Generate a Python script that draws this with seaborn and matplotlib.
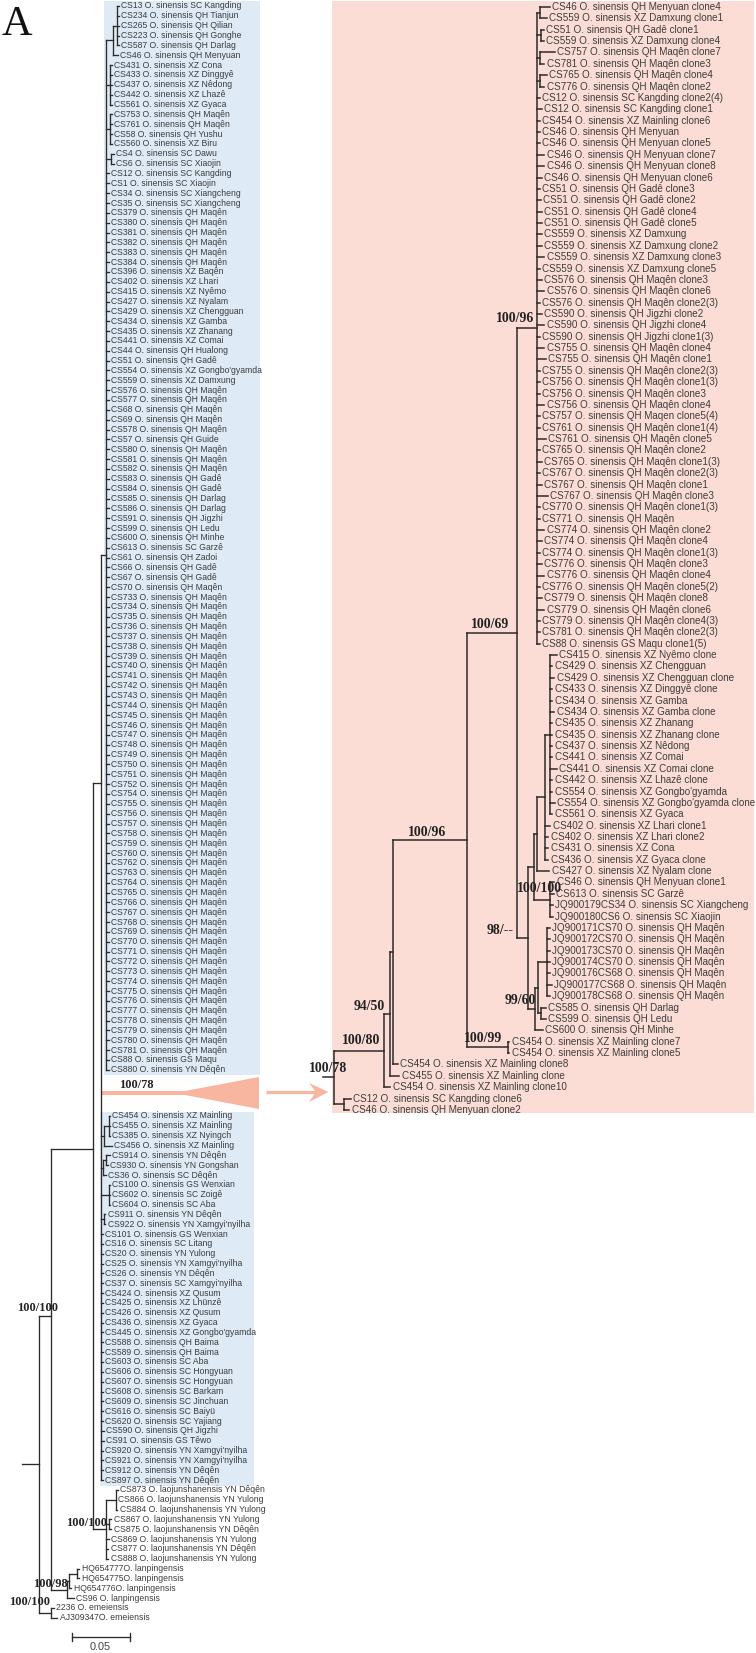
import matplotlib
matplotlib.use("Agg")  # no display in the sandbox
import matplotlib.pyplot as plt
from matplotlib.patches import Rectangle
import pandas as pd
import seaborn as sns

# taxa in tree order, top to bottom
left_taxa = [
    "CS13 O. sinensis SC Kangding", "CS234 O. sinensis QH Tianjun", "CS265 O. sinensis QH Qilian",
    "CS223 O. sinensis QH Gonghe", "CS587 O. sinensis QH Darlag", "CS46 O. sinensis QH Menyuan",
    "CS431 O. sinensis XZ Cona", "CS433 O. sinensis XZ Dinggyê", "CS437 O. sinensis XZ Nêdong",
    "CS442 O. sinensis XZ Lhazê", "CS561 O. sinensis XZ Gyaca", "CS753 O. sinensis QH Maqên",
    "CS761 O. sinensis QH Maqên", "CS58 O. sinensis QH Yushu", "CS560 O. sinensis XZ Biru",
    "CS4 O. sinensis SC Dawu", "CS6 O. sinensis SC Xiaojin", "CS12 O. sinensis SC Kangding",
    "CS1 O. sinensis SC Xiaojin", "CS34 O. sinensis SC Xiangcheng", "CS35 O. sinensis SC Xiangcheng",
    "CS379 O. sinensis QH Maqên", "CS380 O. sinensis QH Maqên", "CS381 O. sinensis QH Maqên",
    "CS382 O. sinensis QH Maqên", "CS383 O. sinensis QH Maqên", "CS384 O. sinensis QH Maqên",
    "CS396 O. sinensis XZ Baqên", "CS402 O. sinensis XZ Lhari", "CS415 O. sinensis XZ Nyêmo",
    "CS427 O. sinensis XZ Nyalam", "CS429 O. sinensis XZ Chengguan", "CS434 O. sinensis XZ Gamba",
    "CS435 O. sinensis XZ Zhanang", "CS441 O. sinensis XZ Comai", "CS44 O. sinensis QH Hualong",
    "CS51 O. sinensis QH Gadê", "CS554 O. sinensis XZ Gongbo'gyamda", "CS559 O. sinensis XZ Damxung",
    "CS576 O. sinensis QH Maqên", "CS577 O. sinensis QH Maqên", "CS68 O. sinensis QH Maqên",
    "CS69 O. sinensis QH Maqên", "CS578 O. sinensis QH Maqên", "CS57 O. sinensis QH Guide",
    "CS580 O. sinensis QH Maqên", "CS581 O. sinensis QH Maqên", "CS582 O. sinensis QH Maqên",
    "CS583 O. sinensis QH Gadê", "CS584 O. sinensis QH Gadê", "CS585 O. sinensis QH Darlag",
    "CS586 O. sinensis QH Darlag", "CS591 O. sinensis QH Jigzhi", "CS599 O. sinensis QH Ledu",
    "CS600 O. sinensis QH Minhe", "CS613 O. sinensis SC Garzê", "CS61 O. sinensis QH Zadoi",
    "CS66 O. sinensis QH Gadê", "CS67 O. sinensis QH Gadê", "CS70 O. sinensis QH Maqên",
    "CS733 O. sinensis QH Maqên", "CS734 O. sinensis QH Maqên", "CS735 O. sinensis QH Maqên",
    "CS736 O. sinensis QH Maqên", "CS737 O. sinensis QH Maqên", "CS738 O. sinensis QH Maqên",
    "CS739 O. sinensis QH Maqên", "CS740 O. sinensis QH Maqên", "CS741 O. sinensis QH Maqên",
    "CS742 O. sinensis QH Maqên", "CS743 O. sinensis QH Maqên", "CS744 O. sinensis QH Maqên",
    "CS745 O. sinensis QH Maqên", "CS746 O. sinensis QH Maqên", "CS747 O. sinensis QH Maqên",
    "CS748 O. sinensis QH Maqên", "CS749 O. sinensis QH Maqên", "CS750 O. sinensis QH Maqên",
    "CS751 O. sinensis QH Maqên", "CS752 O. sinensis QH Maqên", "CS754 O. sinensis QH Maqên",
    "CS755 O. sinensis QH Maqên", "CS756 O. sinensis QH Maqên", "CS757 O. sinensis QH Maqên",
    "CS758 O. sinensis QH Maqên", "CS759 O. sinensis QH Maqên", "CS760 O. sinensis QH Maqên",
    "CS762 O. sinensis QH Maqên", "CS763 O. sinensis QH Maqên", "CS764 O. sinensis QH Maqên",
    "CS765 O. sinensis QH Maqên", "CS766 O. sinensis QH Maqên", "CS767 O. sinensis QH Maqên",
    "CS768 O. sinensis QH Maqên", "CS769 O. sinensis QH Maqên", "CS770 O. sinensis QH Maqên",
    "CS771 O. sinensis QH Maqên", "CS772 O. sinensis QH Maqên", "CS773 O. sinensis QH Maqên",
    "CS774 O. sinensis QH Maqên", "CS775 O. sinensis QH Maqên", "CS776 O. sinensis QH Maqên",
    "CS777 O. sinensis QH Maqên", "CS778 O. sinensis QH Maqên", "CS779 O. sinensis QH Maqên",
    "CS780 O. sinensis QH Maqên", "CS781 O. sinensis QH Maqên", "CS88 O. sinensis GS Maqu",
    "CS880 O. sinensis YN Dêqên",
    # below the collapsed clade
    "CS454 O. sinensis XZ Mainling", "CS455 O. sinensis XZ Mainling", "CS385 O. sinensis XZ Nyingch",
    "CS456 O. sinensis XZ Mainling", "CS914 O. sinensis YN Dêqên", "CS930 O. sinensis YN Gongshan",
    "CS36 O. sinensis SC Dêqên", "CS100 O. sinensis GS Wenxian", "CS602 O. sinensis SC Zoigê",
    "CS604 O. sinensis SC Aba", "CS911 O. sinensis YN Dêqên", "CS922 O. sinensis YN Xamgyi'nyilha",
    "CS101 O. sinensis GS Wenxian", "CS16 O. sinensis SC Litang", "CS20 O. sinensis YN Yulong",
    "CS25 O. sinensis YN Xamgyi'nyilha", "CS26 O. sinensis YN Dêqên", "CS37 O. sinensis SC Xamgyi'nyilha",
    "CS424 O. sinensis XZ Qusum", "CS425 O. sinensis XZ Lhünzê", "CS426 O. sinensis XZ Qusum",
    "CS436 O. sinensis XZ Gyaca", "CS445 O. sinensis XZ Gongbo'gyamda", "CS588 O. sinensis QH Baima",
    "CS589 O. sinensis QH Baima", "CS603 O. sinensis SC Aba", "CS606 O. sinensis SC Hongyuan",
    "CS607 O. sinensis SC Hongyuan", "CS608 O. sinensis SC Barkam", "CS609 O. sinensis SC Jinchuan",
    "CS616 O. sinensis SC Baiyü", "CS620 O. sinensis SC Yajiang", "CS590 O. sinensis QH Jigzhi",
    "CS91 O. sinensis GS Têwo", "CS920 O. sinensis YN Xamgyi'nyilha", "CS921 O. sinensis YN Xamgyi'nyilha",
    "CS912 O. sinensis YN Dêqên", "CS897 O. sinensis YN Dêqên",
    "CS873 O. laojunshanensis YN Dêqên", "CS866 O. laojunshanensis YN Yulong",
    "CS884 O. laojunshanensis YN Yulong", "CS867 O. laojunshanensis YN Yulong",
    "CS875 O. laojunshanensis YN Dêqên", "CS869 O. laojunshanensis YN Yulong",
    "CS877 O. laojunshanensis YN Dêqên", "CS888 O. laojunshanensis YN Yulong",
    "HQ654777O. lanpingensis", "HQ654775O. lanpingensis", "HQ654776O. lanpingensis",
    "CS96 O. lanpingensis", "2236 O. emeiensis", "AJ309347O. emeiensis",
]

# where each terminal branch ends
left_tip_depth = [
    118.5, 118.5, 118.5, 118.5, 118.5, 117.5, 111.5, 111.5, 111.5, 111.5, 111.5, 111.5, 111.5, 111.5, 111.5,
    113.5, 113.5, 108.5, 108.5, 108.5, 108.5, 108.5, 108.5, 108.5, 108.5, 108.5, 108.5, 108.5, 108.5, 108.5,
    108.5, 108.5, 108.5, 108.5, 108.5, 108.5, 108.5, 108.5, 108.5, 108.5, 108.5, 108.5, 108.5, 108.5, 108.5,
    108.5, 108.5, 108.5, 108.5, 108.5, 108.5, 108.5, 108.5, 108.5, 108.5, 108.5, 108.5, 108.5, 108.5, 108.5,
    108.5, 108.5, 108.5, 108.5, 108.5, 108.5, 108.5, 108.5, 108.5, 108.5, 108.5, 108.5, 108.5, 108.5, 108.5,
    108.5, 108.5, 108.5, 108.5, 108.5, 108.5, 108.5, 108.5, 108.5, 108.5, 108.5, 108.5, 108.5, 108.5, 108.5,
    108.5, 108.5, 108.5, 108.5, 108.5, 108.5, 108.5, 108.5, 108.5, 108.5, 108.5, 108.5, 108.5, 108.5, 108.5,
    108.5, 108.5, 108.5, 108.5,
    110, 110, 110, 112, 109.5, 108, 105.5, 110, 110, 110, 105, 105.3,
    102.5, 102.5, 102.5, 102.5, 102.5, 102.5, 102.5, 102.5, 102.5, 102.5, 102.5, 102.5, 102.5, 102.5,
    102.5, 102.5, 102.5, 102.5, 102.5, 102.5, 104, 104, 102.5, 102.5, 102.5, 102.5,
    117.5, 116, 117, 111, 111, 108.5, 108.3, 108.3, 79, 79, 71, 73.5, 54, 57,
]

right_taxa = [
    "CS46 O. sinensis QH Menyuan clone4", "CS559 O. sinensis XZ Damxung clone1", "CS51 O. sinensis QH Gadê clone1",
    "CS559 O. sinensis XZ Damxung clone4", "CS757 O. sinensis QH Maqên clone7", "CS781 O. sinensis QH Maqên clone3",
    "CS765 O. sinensis QH Maqên clone4", "CS776 O. sinensis QH Maqên clone2", "CS12 O. sinensis SC Kangding clone2(4)",
    "CS12 O. sinensis SC Kangding clone1", "CS454 O. sinensis XZ Mainling clone6", "CS46 O. sinensis QH Menyuan",
    "CS46 O. sinensis QH Menyuan clone5", "CS46 O. sinensis QH Menyuan clone7", "CS46 O. sinensis QH Menyuan clone8",
    "CS46 O. sinensis QH Menyuan clone6", "CS51 O. sinensis QH Gadê clone3", "CS51 O. sinensis QH Gadê clone2",
    "CS51 O. sinensis QH Gadê clone4", "CS51 O. sinensis QH Gadê clone5", "CS559 O. sinensis XZ Damxung",
    "CS559 O. sinensis XZ Damxung clone2", "CS559 O. sinensis XZ Damxung clone3", "CS559 O. sinensis XZ Damxung clone5",
    "CS576 O. sinensis QH Maqên clone3", "CS576 O. sinensis QH Maqên clone6", "CS576 O. sinensis QH Maqên clone2(3)",
    "CS590 O. sinensis QH Jigzhi clone2", "CS590 O. sinensis QH Jigzhi clone4", "CS590 O. sinensis QH Jigzhi clone1(3)",
    "CS755 O. sinensis QH Maqên clone4", "CS755 O. sinensis QH Maqên clone1", "CS755 O. sinensis QH Maqên clone2(3)",
    "CS756 O. sinensis QH Maqên clone1(3)", "CS756 O. sinensis QH Maqên clone3", "CS756 O. sinensis QH Maqên clone4",
    "CS757 O. sinensis QH Maqen clone5(4)", "CS761 O. sinensis QH Maqên clone1(4)", "CS761 O. sinensis QH Maqên clone5",
    "CS765 O. sinensis QH Maqên clone2", "CS765 O. sinensis QH Maqên clone1(3)", "CS767 O. sinensis QH Maqên clone2(3)",
    "CS767 O. sinensis QH Maqên clone1", "CS767 O. sinensis QH Maqên clone3", "CS770 O. sinensis QH Maqên clone1(3)",
    "CS771 O. sinensis QH Maqên", "CS774 O. sinensis QH Maqên clone2", "CS774 O. sinensis QH Maqên clone4",
    "CS774 O. sinensis QH Maqên clone1(3)", "CS776 O. sinensis QH Maqên clone3", "CS776 O. sinensis QH Maqên clone4",
    "CS776 O. sinensis QH Maqên clone5(2)", "CS779 O. sinensis QH Maqên clone8", "CS779 O. sinensis QH Maqên clone6",
    "CS779 O. sinensis QH Maqên clone4(3)", "CS781 O. sinensis QH Maqên clone2(3)", "CS88 O. sinensis GS Maqu clone1(5)",
    "CS415 O. sinensis XZ Nyêmo clone", "CS429 O. sinensis XZ Chengguan", "CS429 O. sinensis XZ Chengguan clone",
    "CS433 O. sinensis XZ Dinggyê clone", "CS434 O. sinensis XZ Gamba", "CS434 O. sinensis XZ Gamba clone",
    "CS435 O. sinensis XZ Zhanang", "CS435 O. sinensis XZ Zhanang clone", "CS437 O. sinensis XZ Nêdong",
    "CS441 O. sinensis XZ Comai", "CS441 O. sinensis XZ Comai clone", "CS442 O. sinensis XZ Lhazê clone",
    "CS554 O. sinensis XZ Gongbo'gyamda", "CS554 O. sinensis XZ Gongbo'gyamda clone", "CS561 O. sinensis XZ Gyaca",
    "CS402 O. sinensis XZ Lhari clone1", "CS402 O. sinensis XZ Lhari clone2", "CS431 O. sinensis XZ Cona",
    "CS436 O. sinensis XZ Gyaca clone", "CS427 O. sinensis XZ Nyalam clone", "CS46 O. sinensis QH Menyuan clone1",
    "CS613 O. sinensis SC Garzê", "JQ900179CS34 O. sinensis SC Xiangcheng", "JQ900180CS6 O. sinensis SC Xiaojin",
    "JQ900171CS70 O. sinensis QH Maqên", "JQ900172CS70 O. sinensis QH Maqên", "JQ900173CS70 O. sinensis QH Maqên",
    "JQ900174CS70 O. sinensis QH Maqên", "JQ900176CS68 O. sinensis QH Maqên", "JQ900177CS68 O. sinensis QH Maqên",
    "JQ900178CS68 O. sinensis QH Maqên", "CS585 O. sinensis QH Darlag", "CS599 O. sinensis QH Ledu",
    "CS600 O. sinensis QH Minhe", "CS454 O. sinensis XZ Mainling clone7", "CS454 O. sinensis XZ Mainling clone5",
    "CS454 O. sinensis XZ Mainling clone8", "CS455 O. sinensis XZ Mainling clone", "CS454 O. sinensis XZ Mainling clone10",
    "CS12 O. sinensis SC Kangding clone6", "CS46 O. sinensis QH Menyuan clone2",
]

right_tip_depth = [
    549.5, 546.5, 543.5, 543.5, 554.8, 544.2, 546.5, 544.2, 539.8, 541.8, 539.8, 539.8, 539.8, 544.2, 544.2,
    541.8, 539.8, 540.8, 541.8, 541.8, 541.8, 541.8, 544.2, 539.8, 541.8, 544.2, 539.8, 541.8, 544.2, 539.8,
    544.2, 545.8, 539.8, 539.8, 539.8, 544.2, 539.8, 539.8, 545.8, 539.8, 541.8, 539.8, 541.8, 547.8, 539.8,
    539.8, 544.2, 541.8, 539.8, 541.8, 544.2, 539.8, 541.8, 544.2, 539.8, 539.8, 539.8,
    556.5, 552.2, 554.2, 552.2, 552.2, 554.2, 552.2, 552.2, 552.2, 552.2, 556.5, 552.2, 552.2, 554.8, 552.2,
    550.2, 548.2, 548.2, 548.2, 549.2, 554.2, 553.5, 552.5, 552.5,
    549.5, 549.5, 549.5, 549.5, 549.5, 551.5, 549.5, 545.5, 545.5, 542.5, 509.2, 509.2,
    397.5, 399.2, 390.2, 350.5, 349.2,
]

# bootstrap support labels
left_support = ["100/100", "100/100", "100/98", "100/100", "100/78"]
left_support_x = [38, 87, 50, 30, 136.5]
left_support_y = [1308, 1523, 1584, 1602, 1085]
right_support = ["100/96", "100/69", "100/96", "100/100", "98/--", "99/60", "94/50", "100/80", "100/78", "100/99"]
right_support_x = [515, 490.5, 427, 539.5, 500.5, 520, 369, 361, 328.5, 483]
right_support_y = [318, 624, 832, 889, 931, 1001, 1006, 1041, 1068, 1038]

FIG_W, FIG_H = 756, 1653
BRANCH = "#2e2a2a"
LABEL = "#3d3d3d"
BLUE = "#deeaf5"
PINK = "#fbddd6"
SALMON = "#f8b5a0"


def N(depth, *children, stem=None):
    return (depth, children, stem)


# left tree, tips numbered down the page; lo is the first row under the collapsed clade
lo = 109
left_tree = N(
    38.7,
    N(
        50.5,
        N(
            93,
            N(
                100.5,
                N(106, N(113, N(116.7, 0, 1, 2, 3, 4), 5), N(109.5, *range(6, 11)), N(109.5, *range(11, 15)),
                  N(110.5, 15, 16), *range(17, lo)),
                N(104, N(109, lo, lo + 1, lo + 2), lo + 3),
                N(103, N(106, lo + 4, lo + 5), lo + 6),
                N(109, lo + 7, lo + 8, lo + 9),
                N(103.5, lo + 10, lo + 11),
                *range(lo + 12, lo + 38),
                stem=783,
            ),
            N(106, N(115.5, lo + 38, lo + 39, lo + 40), N(109, lo + 41, lo + 42), lo + 43, lo + 44, lo + 45),
            stem=1149,
        ),
        N(66.5, N(68.5, N(76.5, lo + 46, lo + 47), lo + 48), lo + 49),
        stem=1316,
    ),
    N(51, lo + 50, lo + 51),
)

right_tree = N(
    333.7,
    N(
        384.3,
        N(
            390,
            N(
                392.7,
                N(
                    467,
                    N(
                        517.3,
                        N(537, N(540, 0, 1), N(540.7, 2, 3), N(540, 4, 5), N(540.3, 6, 7), *range(8, 57)),
                        N(
                            528.3,
                            N(
                                533.7,
                                N(537, N(545, N(549.5, *range(57, 72)), 72, 73, 74, 75), 76),
                                N(550, 77, 78, 79, 80),
                            ),
                            N(535, N(538.3, N(547.3, *range(81, 88)), N(541, 88, 89)), 90),
                        ),
                    ),
                    N(507.7, 91, 92),
                ),
                93,
            ),
            94,
        ),
        95,
    ),
    N(344, 96, 97),
)


def left_row_y(i):
    return 6 + 9.85 * i if i < lo else 1116 + 9.84 * (i - lo)


def right_row_y(i):
    return 7 + 11.37 * i


segments = []


def add_segment(panel, x0, y0, x1, y1):
    n = len(segments) // 2
    segments.append({"panel": panel, "branch": n, "x": x0, "y": y0})
    segments.append({"panel": panel, "branch": n, "x": x1, "y": y1})


def walk(node, panel, tip_depth, row_y):
    if isinstance(node, int):
        return tip_depth[node], row_y(node)
    depth, children, stem = node
    ends = [walk(c, panel, tip_depth, row_y) for c in children]
    ys = [y for _, y in ends]
    for child_x, child_y in ends:
        add_segment(panel, depth, child_y, child_x, child_y)
    add_segment(panel, depth, min(ys), depth, max(ys))
    return depth, stem if stem is not None else (min(ys) + max(ys)) / 2


_, left_root_y = walk(left_tree, "left", left_tip_depth, left_row_y)
add_segment("left", 22, left_root_y, left_tree[0], left_root_y)
_, right_root_y = walk(right_tree, "right", right_tip_depth, right_row_y)
add_segment("right", 323, right_root_y, right_tree[0], right_root_y)

# scale bar
add_segment("left", 71.5, 1637, 130, 1637)
add_segment("left", 71.5, 1633, 71.5, 1641)
add_segment("left", 130, 1633, 130, 1641)

branches = pd.DataFrame(segments)

sns.set_theme(style="white")
plt.rcParams["font.family"] = ["Liberation Sans", "DejaVu Sans"]

fig = plt.figure(figsize=(FIG_W / 100, FIG_H / 100), dpi=100)
ax = fig.add_axes([0, 0, 1, 1])

# shaded panels
ax.add_patch(Rectangle((104, 1), 156, 1074, color=BLUE, lw=0, zorder=0))
ax.add_patch(Rectangle((100, 1112), 154, 374, color=BLUE, lw=0, zorder=0))
ax.add_patch(Rectangle((332, 1), 422, 1112, color=PINK, lw=0, zorder=0))

# collapsed clade and arrow pointing at its expansion
ax.fill([101, 185, 259, 259, 185, 101], [1091, 1091, 1077, 1109, 1095, 1095], color=SALMON, lw=0, zorder=1)
ax.plot([266, 318], [1092, 1092], color=SALMON, lw=2.3, solid_capstyle="butt", zorder=1)
ax.fill([328.5, 309, 316, 309], [1092, 1083, 1092, 1102], color=SALMON, lw=0, zorder=1)

for panel, width in [("left", 0.95), ("right", 1.1)]:
    sns.lineplot(
        data=branches[branches["panel"] == panel],
        x="x",
        y="y",
        units="branch",
        estimator=None,
        sort=False,
        color=BRANCH,
        linewidth=width,
        solid_capstyle="projecting",
        legend=False,
        ax=ax,
    )

for i, name in enumerate(left_taxa):
    ax.text(left_tip_depth[i] + 2.5, left_row_y(i), name, fontsize=6.2, color=LABEL, va="center", ha="left")
for i, name in enumerate(right_taxa):
    ax.text(right_tip_depth[i] + 2.5, right_row_y(i), name, fontsize=7.1, color=LABEL, va="center", ha="left")

for label, x, y in zip(left_support, left_support_x, left_support_y):
    ax.text(x, y, label, fontsize=8.9, family="Liberation Serif", weight="bold", color="#222222",
            ha="center", va="center")
for label, x, y in zip(right_support, right_support_x, right_support_y):
    ax.text(x, y, label, fontsize=9.9, family="Liberation Serif", weight="bold", color="#222222",
            ha="center", va="center")

ax.text(100, 1647, "0.05", fontsize=7.8, color=LABEL, ha="center", va="center")
ax.text(2, 35, "A", fontsize=30.4, family="Liberation Serif", color="#111111", ha="left", va="baseline")

ax.set_xlim(0, FIG_W)
ax.set_ylim(FIG_H, 0)
ax.set_axis_off()

fig.savefig("out.png", dpi=100, facecolor="white")
plt.close(fig)
